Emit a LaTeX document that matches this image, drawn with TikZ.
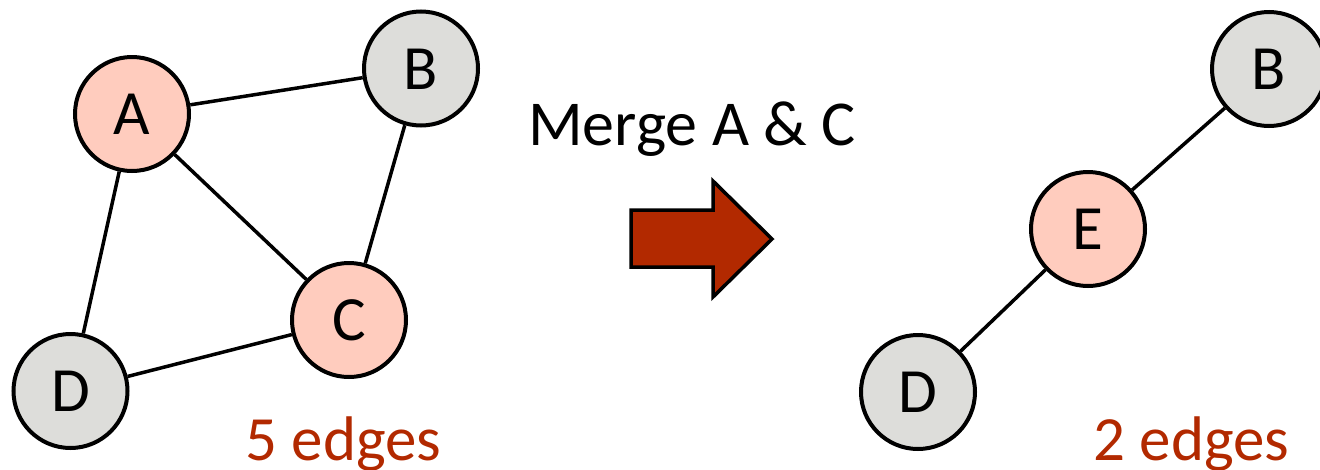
\documentclass[tikz,border=0pt]{standalone}
\usepackage{fontspec}
\setmainfont{Carlito}
\definecolor{nodepink}{HTML}{FFCCBE}
\definecolor{nodegray}{HTML}{DDDDDA}
\definecolor{accentred}{HTML}{B22900}
\begin{document}
\begin{tikzpicture}[x=1pt,y=-1pt,
  vertex/.style={circle, draw=black, line width=4pt, minimum size=114pt, inner sep=0pt,
    font=\fontsize{63}{70}\selectfont, text height=41pt, text depth=0pt},
  merged/.style={vertex, fill=nodepink},
  plain/.style={vertex, fill=nodegray},
  edge/.style={draw=black, line width=3.5pt},
  count/.style={font=\fontsize{63}{70}\selectfont, text=accentred, anchor=base, inner sep=0pt}]
  \useasboundingbox (0,0) rectangle (1320,469);

  % graph before merging
  \node[merged] (A) at (132,114) {A};
  \node[plain]  (B) at (421,68.5) {B};
  \node[merged] (C) at (349,320) {C};
  \node[plain]  (D) at (70.5,391) {D};
  \draw[edge] (A) -- (B);
  \draw[edge] (A) -- (C);
  \draw[edge] (A) -- (D);
  \draw[edge] (B) -- (C);
  \draw[edge] (C) -- (D);

  % operation
  \node[font=\fontsize{64}{70}\selectfont, anchor=base, inner sep=0pt] (op) at (692,145) {Merge A \& C};
  \draw[line width=3.5pt, fill=accentred, line join=miter]
    (631,210) -- (713,210) -- (713,181) -- (772,239) -- (713,297) -- (713,267) -- (631,267) -- cycle;

  % graph after merging
  \node[merged] (E)  at (1088,229) {E};
  \node[plain]  (B2) at (1269,69) {B};
  \node[plain]  (D2) at (918,392) {D};
  \draw[edge] (E) -- (B2);
  \draw[edge] (E) -- (D2);

  % edge counts
  \node[count] (n1) at (343.5,460) {5 edges};
  \node[count] (n2) at (1191.5,460) {2 edges};
\end{tikzpicture}
\end{document}
